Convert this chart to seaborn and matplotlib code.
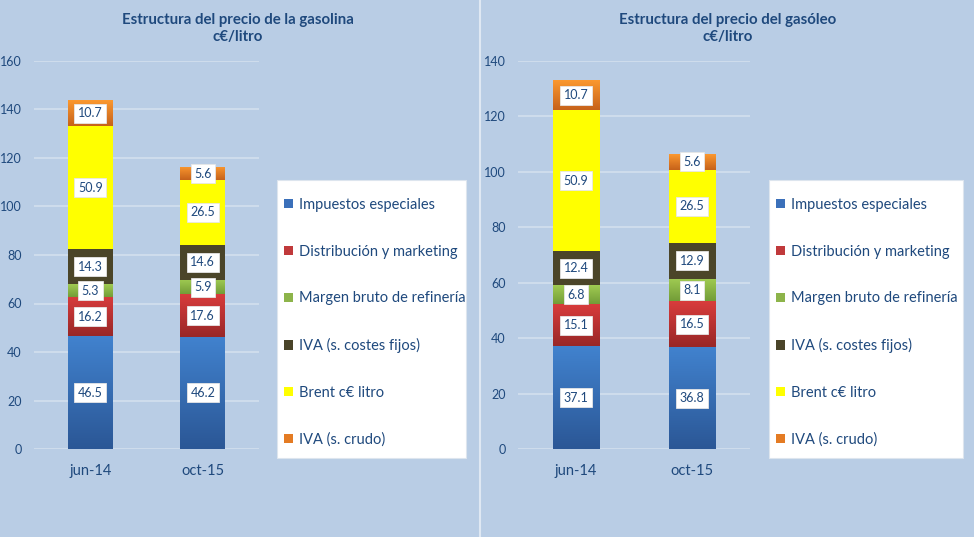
import matplotlib
matplotlib.use("Agg")
import matplotlib.pyplot as plt
import seaborn as sns
import numpy as np
import pandas as pd
from matplotlib.patches import Patch, Rectangle
from matplotlib.colors import to_rgb
from matplotlib.lines import Line2D

# ---------------- data ----------------
fechas = ["jun-14", "oct-15"]
componentes = ["Impuestos especiales", "Distribución y marketing",
               "Margen bruto de refinería", "IVA (s. costes fijos)",
               "Brent c€ litro", "IVA (s. crudo)"]

gas_impuestos = [46.5, 46.2]
gas_distribucion = [16.2, 17.6]
gas_margen = [5.3, 5.9]
gas_iva_fijos = [14.3, 14.6]
gas_brent = [50.9, 26.5]
gas_iva_crudo = [10.7, 5.6]

gsl_impuestos = [37.1, 36.8]
gsl_distribucion = [15.1, 16.5]
gsl_margen = [6.8, 8.1]
gsl_iva_fijos = [12.4, 12.9]
gsl_brent = [50.9, 26.5]
gsl_iva_crudo = [10.7, 5.6]

gasolina = [gas_impuestos, gas_distribucion, gas_margen, gas_iva_fijos, gas_brent, gas_iva_crudo]
gasoleo = [gsl_impuestos, gsl_distribucion, gsl_margen, gsl_iva_fijos, gsl_brent, gsl_iva_crudo]

yticks_gasolina = [0, 20, 40, 60, 80, 100, 120, 140, 160]
yticks_gasoleo = [0, 20, 40, 60, 80, 100, 120, 140]

titulo_gasolina = "Estructura del precio de la gasolina\nc€/litro"
titulo_gasoleo = "Estructura del precio del gasóleo\nc€/litro"

# ---------------- style ----------------
BG = "#b9cde5"
TXT = "#1f497d"
GRID = "#d5e1ef"
# (top, bottom) gradient colours per component
grad = [("#4182ce", "#2b5796"),
        ("#d83c3c", "#992727"),
        ("#a0cb52", "#739d38"),
        ("#4b4529", "#4b4529"),
        ("#ffff00", "#ffff00"),
        ("#fb982f", "#c6621a")]
legend_cols = ["#3b70ba", "#c0393b", "#8db44a", "#4a4429", "#ffff00", "#e47b23"]

sns.set_theme(style="white")
plt.rcParams["font.family"] = ["Lato", "DejaVu Sans"]

W, H = 974, 537
fig = plt.figure(figsize=(W / 100, H / 100), dpi=100, facecolor=BG)


def fx(px):
    return px / W


def fy(py):
    return 1 - py / H


def panel(rect, series, yticks, title, title_x, legend_box):
    ax = fig.add_axes(rect)
    ax.set_facecolor(BG)
    bottoms = np.zeros(len(fechas))
    for k, vals in enumerate(series):
        df = pd.DataFrame({"fecha": fechas, "valor": vals})
        n0 = len(ax.patches)
        sns.barplot(data=df, x="fecha", y="valor", order=fechas, ax=ax,
                    bottom=bottoms.copy(), width=0.4, color=grad[k][0],
                    errorbar=None, linewidth=0, saturation=1, zorder=2)
        new = ax.patches[n0:]
        top_c = np.array(to_rgb(grad[k][0]))
        bot_c = np.array(to_rgb(grad[k][1]))
        t = np.linspace(0, 1, 64)[:, None]
        img = (top_c * (1 - t) + bot_c * t)[:, None, :]
        for p, v in zip(new, vals):
            x0, w = p.get_x(), p.get_width()
            y0, h = p.get_y(), p.get_height()
            im = ax.imshow(img, extent=(x0, x0 + w, y0, y0 + h), origin="upper",
                           aspect="auto", zorder=2.5, interpolation="bilinear")
            im.set_clip_path(p)
            ax.text(x0 + w / 2, y0 + h / 2, f"{v:.1f}", ha="center", va="center",
                    fontsize=9, color=TXT, zorder=5,
                    bbox=dict(boxstyle="square,pad=0.28", fc="white", ec="#e6e6e6", lw=0.6))
        bottoms = bottoms + np.array(vals)
    ax.set_xlim(-0.5, 1.5)
    ax.set_ylim(0, yticks[-1])
    ax.set_yticks(yticks)
    ax.set_yticklabels([str(v) for v in yticks])
    ax.set_xlabel("")
    ax.set_ylabel("")
    for s in ax.spines.values():
        s.set_visible(False)
    ax.grid(axis="y", color=GRID, lw=1.1, zorder=0)
    ax.set_axisbelow(True)
    ax.tick_params(axis="y", length=0, pad=9, labelsize=9, labelcolor=TXT)
    ax.tick_params(axis="x", length=0, pad=11, labelsize=10.5, labelcolor=TXT)
    fig.text(fx(title_x), fy(28.5), title, ha="center", va="center",
             fontsize=10.8, fontweight="bold", color=TXT, linespacing=1.35)
    # legend
    lx0, ly0, lx1, ly1 = legend_box
    fig.patches.append(Rectangle((fx(lx0), fy(ly1)), fx(lx1 - lx0), (ly1 - ly0) / H,
                                 transform=fig.transFigure, fc="white",
                                 ec="#dde5ee", lw=0.8, zorder=1))
    handles = [Patch(facecolor=c, edgecolor="none") for c in legend_cols]
    fig.legend(handles, componentes, loc="upper left",
               bbox_to_anchor=(fx(lx0 + 7), fy(ly0 + 18)), frameon=False,
               borderaxespad=0, borderpad=0, labelspacing=2.24, fontsize=10.5,
               handlelength=0.6, handleheight=0.6, handletextpad=0.42,
               labelcolor=TXT)
    return ax


ax1 = panel([fx(34), fy(449), fx(259 - 34), 388 / H], gasolina, yticks_gasolina,
            titulo_gasolina, 238, (277, 180, 466, 458))
ax2 = panel([fx(518), fy(449), fx(750 - 518), 388 / H], gasoleo, yticks_gasoleo,
            titulo_gasoleo, 728, (769, 180, 963, 458))

fig.add_artist(Line2D([fx(480), fx(480)], [0, 1], transform=fig.transFigure,
                      color="#dfe8f3", lw=1.5))

fig.savefig("out.png", dpi=100, facecolor=BG)
